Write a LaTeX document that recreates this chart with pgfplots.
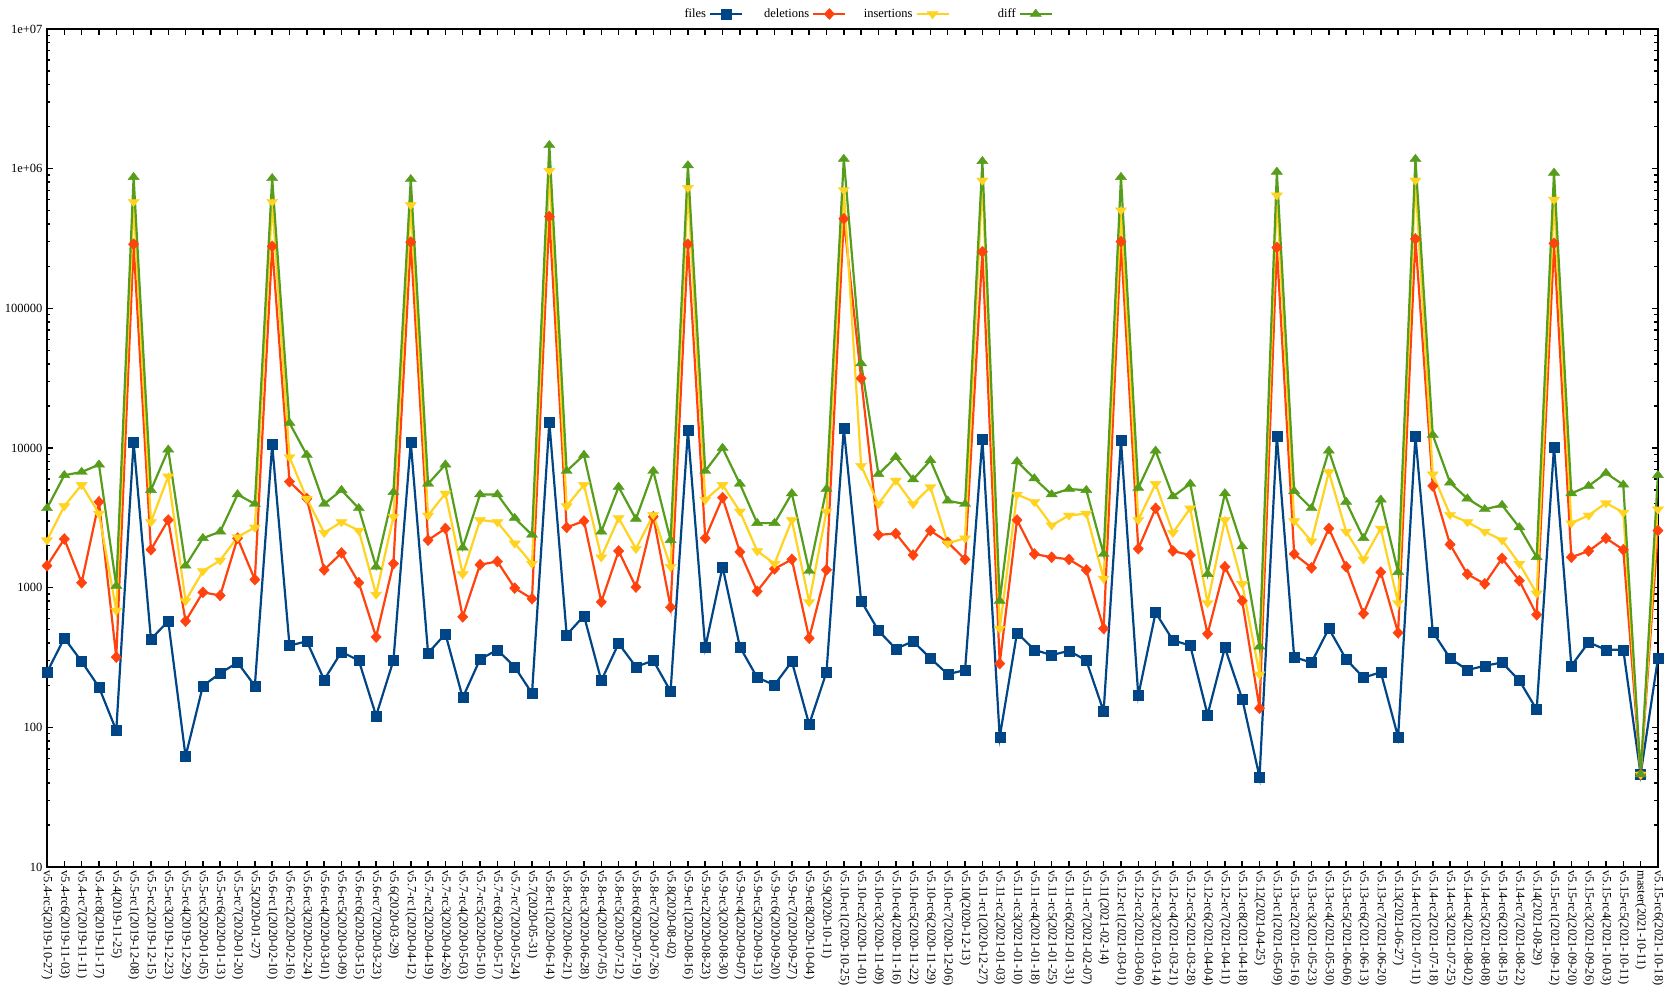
\documentclass[border=0pt]{standalone}
\usepackage{fontspec}
\setmainfont{Liberation Serif}
\usepackage{pgfplots}
\usepackage{pgfplotstable}
\pgfplotsset{compat=1.18}

\definecolor{cfiles}{HTML}{004586}
\definecolor{cdel}{HTML}{FF420E}
\definecolor{cins}{HTML}{FFD320}
\definecolor{cdiff}{HTML}{579D1C}

\newcommand{\lblfont}{\fontsize{12.5}{14}\selectfont}

% x: release index, then files / deletions / insertions / diff
\pgfplotstableread{
x files deletions insertions diff
0 248 1435 2188 3700
1 435 2230 3836 6380
2 296 1085 5450 6730
3 194 4110 3390 7600
4 95 318 687 1029
5 11000 288000 580000 869000
6 428 1870 2950 4990
7 576 3050 6270 9720
8 62 576 804 1435
9 198 926 1315 2260
10 244 879 1567 2518
11 291 2260 2306 4650
12 198 1142 2700 3970
13 10600 278000 580000 853000
14 385 5740 8600 15100
15 413 4340 4340 8910
16 219 1340 2473 3970
17 347 1772 2950 4990
18 301 1085 2563 3700
19 121 443 894 1410
20 301 1486 3220 4820
21 11000 298000 550000 839000
22 340 2188 3290 5540
23 467 2654 4730 7600
24 163 618 1250 1935
25 307 1460 3050 4650
26 359 1540 2950 4650
27 271 993 2075 3150
28 175 833 1486 2388
29 15300 454000 966000 1470000
30 459 2700 3836 6840
31 629 3000 5450 8910
32 216 790 1651 2518
33 399 1830 3150 5260
34 271 1010 1900 3105
35 301 3220 3330 6840
36 181 724 1410 2188
37 13300 288000 729000 1054000
38 372 2260 4260 6840
39 1410 4410 5450 10000
40 377 1803 3515 5540
41 227 942 1830 2897
42 201 1362 1486 2897
43 296 1595 3050 4730
44 105 435 790 1315
45 248 1340 3515 5080
46 13800 438000 704000 1171000
47 804 31500 7470 40300
48 492 2388 3970 6490
49 365 2440 5850 8600
50 413 1711 3970 5950
51 312 2563 5260 8160
52 240 2112 2075 4190
53 257 1595 2260 3970
54 11600 254000 824000 1130000
55 85 286 510 804
56 475 3050 4650 8020
57 359 1741 4110 6050
58 329 1651 2796 4650
59 353 1595 3290 5080
60 301 1340 3390 4990
61 130 510 1163 1741
62 11400 300000 504000 869000
63 169 1900 3050 5170
64 663 3700 5540 9550
65 420 1830 2473 4490
66 385 1711 3700 5540
67 123 467 777 1250
68 372 1410 3050 4730
69 160 804 1065 1970
70 44 137 240 378
71 12200 273000 645000 948000
72 318 1741 3000 4910
73 291 1387 2150 3700
74 510 2654 6730 9550
75 307 1410 2518 4110
76 227 652 1595 2260
77 248 1291 2654 4260
78 85 475 777 1291
79 12200 314000 824000 1171000
80 483 5350 6490 12400
81 312 2039 3330 5650
82 257 1248 2950 4340
83 276 1065 2518 3640
84 291 1622 2188 3900
85 216 1122 1486 2700
86 134 640 910 1651
87 10200 292000 601000 933000
88 276 1651 2897 4730
89 406 1830 3290 5350
90 359 2260 4040 6610
91 359 1870 3450 5450
92 46 46 46 46
93 312 2563 3640 6380
}\data

\begin{document}
\begin{tikzpicture}
\begin{axis}[
  scale only axis,
  width=1611pt, height=838pt,
  ymode=log, ymin=10, ymax=1e7,
  xmin=0, xmax=93,
  axis line style={line width=2.5pt},
  tick align=inside,
  tick pos=both,
  major tick length=6pt,
  minor tick length=3.5pt,
  every tick/.style={black, line width=1.5pt},
  ytick={10,100,1000,10000,100000,1000000,10000000},
  yticklabels={10,100,1000,10000,100000,1e+06,1e+07},
  minor ytick={20,30,40,50,60,70,80,90,200,300,400,500,600,700,800,900,
    2000,3000,4000,5000,6000,7000,8000,9000,
    20000,30000,40000,50000,60000,70000,80000,90000,
    200000,300000,400000,500000,600000,700000,800000,900000,
    2000000,3000000,4000000,5000000,6000000,7000000,8000000,9000000},
  yticklabel style={font=\lblfont, anchor=east, xshift=-1pt},
  xtick={0,...,93},
  xticklabels={
    v5.4-rc5(2019-10-27),v5.4-rc6(2019-11-03),v5.4-rc7(2019-11-11),v5.4-rc8(2019-11-17),v5.4(2019-11-25),
    v5.5-rc1(2019-12-08),v5.5-rc2(2019-12-15),v5.5-rc3(2019-12-23),v5.5-rc4(2019-12-29),v5.5-rc5(2020-01-05),
    v5.5-rc6(2020-01-13),v5.5-rc7(2020-01-20),v5.5(2020-01-27),
    v5.6-rc1(2020-02-10),v5.6-rc2(2020-02-16),v5.6-rc3(2020-02-24),v5.6-rc4(2020-03-01),v5.6-rc5(2020-03-09),
    v5.6-rc6(2020-03-15),v5.6-rc7(2020-03-23),v5.6(2020-03-29),
    v5.7-rc1(2020-04-12),v5.7-rc2(2020-04-19),v5.7-rc3(2020-04-26),v5.7-rc4(2020-05-03),v5.7-rc5(2020-05-10),
    v5.7-rc6(2020-05-17),v5.7-rc7(2020-05-24),v5.7(2020-05-31),
    v5.8-rc1(2020-06-14),v5.8-rc2(2020-06-21),v5.8-rc3(2020-06-28),v5.8-rc4(2020-07-05),v5.8-rc5(2020-07-12),
    v5.8-rc6(2020-07-19),v5.8-rc7(2020-07-26),v5.8(2020-08-02),
    v5.9-rc1(2020-08-16),v5.9-rc2(2020-08-23),v5.9-rc3(2020-08-30),v5.9-rc4(2020-09-07),v5.9-rc5(2020-09-13),
    v5.9-rc6(2020-09-20),v5.9-rc7(2020-09-27),v5.9-rc8(2020-10-04),v5.9(2020-10-11),
    v5.10-rc1(2020-10-25),v5.10-rc2(2020-11-01),v5.10-rc3(2020-11-09),v5.10-rc4(2020-11-16),v5.10-rc5(2020-11-22),
    v5.10-rc6(2020-11-29),v5.10-rc7(2020-12-06),v5.10(2020-12-13),
    v5.11-rc1(2020-12-27),v5.11-rc2(2021-01-03),v5.11-rc3(2021-01-10),v5.11-rc4(2021-01-18),v5.11-rc5(2021-01-25),
    v5.11-rc6(2021-01-31),v5.11-rc7(2021-02-07),v5.11(2021-02-14),
    v5.12-rc1(2021-03-01),v5.12-rc2(2021-03-06),v5.12-rc3(2021-03-14),v5.12-rc4(2021-03-21),v5.12-rc5(2021-03-28),
    v5.12-rc6(2021-04-04),v5.12-rc7(2021-04-11),v5.12-rc8(2021-04-18),v5.12(2021-04-25),
    v5.13-rc1(2021-05-09),v5.13-rc2(2021-05-16),v5.13-rc3(2021-05-23),v5.13-rc4(2021-05-30),v5.13-rc5(2021-06-06),
    v5.13-rc6(2021-06-13),v5.13-rc7(2021-06-20),v5.13(2021-06-27),
    v5.14-rc1(2021-07-11),v5.14-rc2(2021-07-18),v5.14-rc3(2021-07-25),v5.14-rc4(2021-08-02),v5.14-rc5(2021-08-08),
    v5.14-rc6(2021-08-15),v5.14-rc7(2021-08-22),v5.14(2021-08-29),
    v5.15-rc1(2021-09-12),v5.15-rc2(2021-09-20),v5.15-rc3(2021-09-26),v5.15-rc4(2021-10-03),v5.15-rc5(2021-10-11),
    master(2021-10-11),v5.15-rc6(2021-10-18)},
  xticklabel style={font=\lblfont, rotate=-90, anchor=west, xshift=0pt},
  every axis plot/.append style={line width=2.2pt},
  legend plot pos=right,
  legend columns=4,
  legend image code/.code={\draw[mark repeat=2,mark phase=2,#1] plot coordinates {(0pt,0pt) (16pt,0pt) (32pt,0pt)};},
  legend style={draw=none, fill=none, font=\lblfont,
    at={(0.5,1)}, anchor=center, yshift=15pt, xshift=-6pt,
    nodes={inner sep=3pt}, column sep=0pt},
]
\addplot[color=cfiles, mark=square*, mark size=5pt, mark options={solid, line width=0.4pt}]
  table[x=x, y=files] {\data};
\addlegendentry{\makebox[63pt][r]{files}}
\addplot[color=cdel, mark=diamond*, mark size=5.5pt, mark options={solid, line width=0.4pt, xscale=1.25}]
  table[x=x, y=deletions] {\data};
\addlegendentry{\makebox[63pt][r]{deletions}}
\addplot[color=cins, mark=triangle*, mark size=6.5pt, mark options={solid, line width=0.4pt, rotate=180, yscale=0.75}]
  table[x=x, y=insertions] {\data};
\addlegendentry{\makebox[63pt][r]{insertions}}
\addplot[color=cdiff, mark=triangle*, mark size=6.5pt, mark options={solid, line width=0.4pt, yscale=0.75}]
  table[x=x, y=diff] {\data};
\addlegendentry{\makebox[63pt][r]{diff}}
\end{axis}
\pgfresetboundingbox
\useasboundingbox (-47pt,-128pt) rectangle (1621pt,867pt);
\end{tikzpicture}
\end{document}
